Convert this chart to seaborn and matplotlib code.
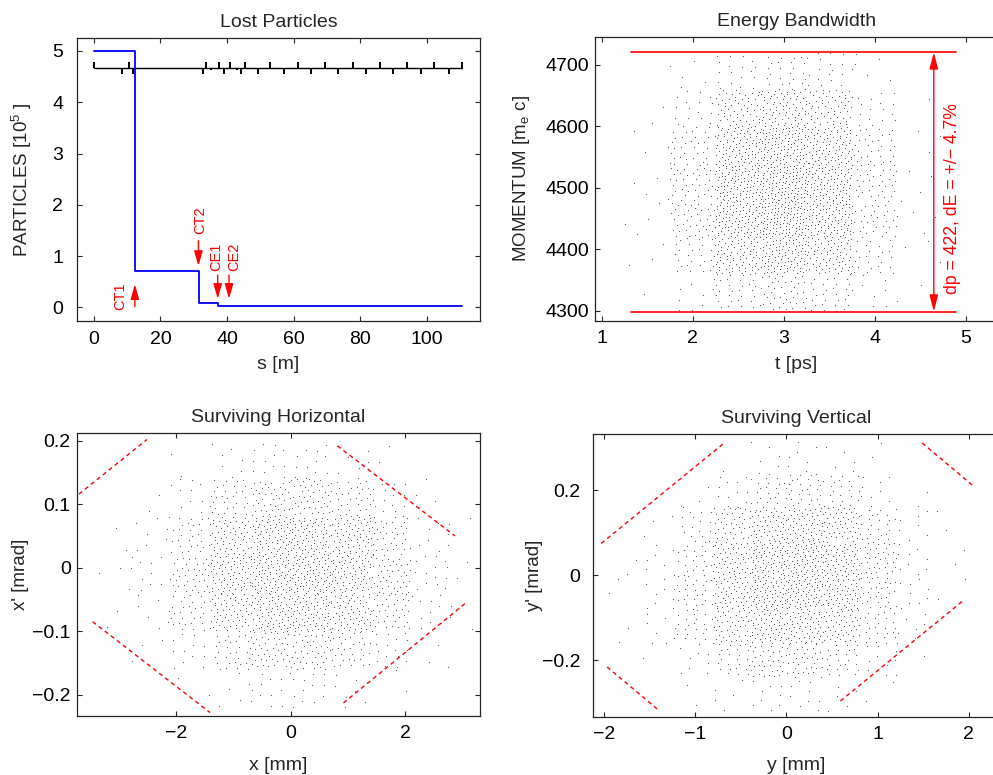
import numpy as np
import pandas as pd
import matplotlib
matplotlib.use("Agg")
import matplotlib.pyplot as plt
import seaborn as sns

# ---------------- data ----------------
# Lost particles (step curve, units of 1e5)
loss_s = [0.0, 12.3, 31.6, 37.2, 110.6]
loss_n = [5.0, 0.72, 0.08, 0.02, 0.02]
beam_s = [0.0, 110.6]
beam_level = 4.67
magnet_s = [0.0, 8.3, 10.6, 11.8, 32.9, 33.7, 35.1, 37.6, 39.1, 40.9, 43.1, 44.1,
            45.4, 49.4, 52.9, 57.1, 61.3, 65.3, 69.5, 73.5, 77.8, 81.8, 86.0, 90.0,
            94.0, 98.3, 102.3, 106.6, 110.6]
magnet_h = [0.12, -0.12, 0.12, -0.12, -0.12, 0.12, -0.04, 0.12, -0.12, 0.12, -0.04, -0.12,
            0.12, -0.12, 0.12, -0.12, 0.12, -0.12, 0.12, -0.12, 0.12, -0.12, 0.12, -0.12,
            0.12, -0.12, 0.12, -0.12, 0.12]
coll_names = ["CT1", "CT2", "CE1", "CE2"]
coll_s = [12.3, 31.4, 37.2, 40.6]
coll_tail = [0.02, 1.30, 0.63, 0.63]
coll_head = [0.45, 0.81, 0.17, 0.17]
coll_text_s = [8.0, 31.9, 36.9, 42.1]
coll_text_y = [0.21, 1.71, 0.99, 0.99]

# Energy bandwidth: dot counts per cell (rows: high momentum -> low)
eb_t_edges = [1.25, 1.75, 2.25, 2.75, 3.25, 3.75, 4.25, 4.75]
eb_p_edges = [4300, 4360, 4420, 4480, 4540, 4600, 4660, 4720]
eb_counts = [
    [0, 5, 18, 25, 18, 5, 0],
    [2, 16, 58, 75, 58, 16, 1],
    [3, 32, 92, 110, 90, 30, 3],
    [4, 40, 108, 125, 104, 36, 4],
    [4, 40, 108, 132, 104, 36, 4],
    [3, 28, 82, 104, 80, 25, 3],
    [1, 9, 30, 40, 29, 9, 1],
]
band_p = [4298.5, 4720.5]
band_t = [1.32, 4.89]
band_arrow_t = 4.65
band_text = "dp = 422, dE = +/\u2212 4.7%"

# Surviving horizontal: dot counts per cell (rows: high x' -> low)
h_x_edges = [-3.5, -2.8, -2.1, -1.4, -0.7, 0.0, 0.7, 1.4, 2.1, 2.8, 3.5]
h_xp_edges = [-0.22, -0.16, -0.10, -0.04, 0.02, 0.08, 0.14, 0.20]
h_counts = [
    [0, 0, 2, 7, 12, 12, 7, 2, 0, 0],
    [0, 3, 12, 30, 45, 45, 34, 16, 3, 0],
    [2, 7, 30, 62, 80, 80, 68, 38, 9, 2],
    [3, 11, 38, 75, 92, 92, 78, 45, 14, 3],
    [2, 7, 30, 62, 80, 80, 68, 38, 12, 2],
    [0, 3, 12, 30, 45, 45, 34, 16, 3, 0],
    [0, 0, 2, 5, 12, 12, 7, 2, 0, 0],
]
h_acc_x = [[-3.70, -2.51], [0.815, 2.87], [-3.46, -1.41], [0.92, 3.05]]
h_acc_xp = [[0.116, 0.202], [0.192, 0.050], [-0.085, -0.228], [-0.213, -0.056]]

# Surviving vertical: dot counts per cell (rows: high y' -> low)
v_y_edges = [-2.0, -1.6, -1.2, -0.8, -0.4, 0.0, 0.4, 0.8, 1.2, 1.6, 2.0]
v_yp_edges = [-0.32, -0.24, -0.16, -0.08, 0.0, 0.08, 0.16, 0.24, 0.32]
v_counts = [
    [0, 0, 0, 2, 5, 7, 5, 2, 0, 0],
    [0, 0, 3, 12, 25, 28, 22, 9, 2, 0],
    [0, 3, 16, 40, 58, 62, 50, 25, 7, 2],
    [2, 7, 25, 54, 76, 80, 64, 38, 9, 2],
    [2, 9, 28, 58, 80, 80, 64, 34, 9, 2],
    [2, 7, 22, 46, 64, 64, 50, 25, 7, 0],
    [0, 2, 9, 25, 37, 37, 25, 9, 2, 0],
    [0, 0, 2, 5, 9, 9, 5, 2, 0, 0],
]
v_acc_y = [[-2.03, -0.687], [1.488, 2.047], [-1.966, -1.41], [0.592, 1.937]]
v_acc_yp = [[0.0746, 0.31], [0.311, 0.210], [-0.216, -0.316], [-0.296, -0.060]]


# --------------- helpers ---------------
def cell_cloud(xedges, yedges, counts):
    """Spread each cell's dot count evenly inside the cell (R2 low-discrepancy layout)."""
    g = 1.32471795724474602596
    a1, a2 = 1.0 / g, 1.0 / g ** 2
    ny = len(yedges) - 1
    xs, ys = [], []
    k = 0
    for i, row in enumerate(counts):
        y0, y1 = yedges[ny - 1 - i], yedges[ny - i]
        for j, n in enumerate(row):
            x0, x1 = xedges[j], xedges[j + 1]
            for _ in range(n):
                k += 1
                u = (0.5 + k * a1) % 1.0
                v = (0.5 + k * a2) % 1.0
                xs.append(x0 + u * (x1 - x0))
                ys.append(y0 + v * (y1 - y0))
    return pd.DataFrame({"x": xs, "y": ys})


sns.set_style("ticks")
plt.rcParams["font.family"] = ["Liberation Sans", "DejaVu Sans"]
plt.rcParams.update({
    "mathtext.fontset": "custom",
    "mathtext.rm": "Liberation Sans",
    "mathtext.it": "Liberation Sans:italic",
    "mathtext.default": "regular",
    "font.size": 14,
    "axes.linewidth": 0.9,
    "axes.edgecolor": "#262626",
})

TICK_FS = 14
LAB_FS = 13.5

fig = plt.figure(figsize=(9.93, 7.75), dpi=100)
ax_tl = fig.add_axes([0.0775, 0.5854, 0.4058, 0.3655])
ax_tr = fig.add_axes([0.5992, 0.5862, 0.4058, 0.3657])
ax_bl = fig.add_axes([0.0772, 0.0765, 0.4064, 0.3644])
ax_br = fig.add_axes([0.5975, 0.0752, 0.4076, 0.3648])


def style(ax, ypad, xlab, ylab, title, xlab_y, ylab_x):
    ax.tick_params(direction="in", length=3.5, width=0.8, top=True, right=True,
                   labelsize=TICK_FS, colors="#262626", labelcolor="black")
    ax.tick_params(axis="y", pad=ypad)
    ax.tick_params(axis="x", pad=7)
    for sp in ax.spines.values():
        sp.set_visible(True)
    ax.set_xlabel(xlab, fontsize=TICK_FS)
    ax.set_ylabel(ylab, fontsize=LAB_FS)
    ax.xaxis.label.set_va("center")
    ax.yaxis.label.set_va("center")
    ax.xaxis.set_label_coords(0.5, xlab_y)
    ax.yaxis.set_label_coords(ylab_x, 0.5)
    ax.set_title(title, fontsize=TICK_FS, pad=8)


RED = "#ff0000"
DOT_KW = dict(s=0.7, color="#1a1a1a", linewidth=0, alpha=0.75)

# ---------------- Lost Particles ----------------
ax = ax_tl
ax.plot(beam_s, [beam_level, beam_level], color="black", lw=1.0, zorder=2)
ax.vlines(magnet_s, beam_level, [beam_level + h for h in magnet_h], color="black", lw=1.4, zorder=2)
loss_df = pd.DataFrame({"s": loss_s, "n": loss_n})
sns.lineplot(data=loss_df, x="s", y="n", ax=ax, color="#0000ff", lw=1.3,
             drawstyle="steps-post", sort=False, estimator=None, zorder=3)
for name, s, t0, t1, ts, ty in zip(coll_names, coll_s, coll_tail, coll_head, coll_text_s, coll_text_y):
    ax.annotate("", xy=(s, t1), xytext=(s, t0),
                arrowprops=dict(arrowstyle="-|>,head_length=0.45,head_width=0.13",
                                mutation_scale=20, color=RED, lw=1.0, shrinkA=0, shrinkB=0))
    ax.text(ts, ty, name, rotation=90, ha="center", va="center", color=RED, fontsize=10.5)
ax.set_xlim(-5.1, 116)
ax.set_ylim(-0.27, 5.25)
ax.set_xticks([0, 20, 40, 60, 80, 100])
ax.set_yticks([0, 1, 2, 3, 4, 5])
style(ax, 10, "s [m]", "PARTICLES [10$^5$ ]", "Lost Particles", -0.154, -0.136)

# ---------------- Energy Bandwidth ----------------
ax = ax_tr
eb = cell_cloud(eb_t_edges, eb_p_edges, eb_counts)
sns.scatterplot(data=eb, x="x", y="y", ax=ax, **DOT_KW)
for p in band_p:
    ax.plot(band_t, [p, p], color=RED, lw=1.2)
ax.annotate("", xy=(band_arrow_t, band_p[1]), xytext=(band_arrow_t, band_p[0]),
            arrowprops=dict(arrowstyle="<|-|>,head_length=0.5,head_width=0.13",
                            mutation_scale=20, color=RED, lw=1.0, shrinkA=0, shrinkB=0))
ax.text(4.85, 4483, band_text, rotation=90, ha="center", va="center", color=RED, fontsize=12.7)
ax.set_xlim(0.927, 5.355)
ax.set_ylim(4283.7, 4745)
ax.set_xticks([1, 2, 3, 4, 5])
ax.set_yticks([4300, 4400, 4500, 4600, 4700])
style(ax, 4.3, "t [ps]", "MOMENTUM [m$_e$ c]", "Energy Bandwidth", -0.153, -0.182)

# ---------------- Surviving Horizontal ----------------
ax = ax_bl
hc = cell_cloud(h_x_edges, h_xp_edges, h_counts)
sns.scatterplot(data=hc, x="x", y="y", ax=ax, **DOT_KW)
for xs, ys in zip(h_acc_x, h_acc_xp):
    ax.plot(xs, ys, color=RED, lw=1.0, ls=(0, (3, 2.5)))
ax.set_xlim(-3.74, 3.31)
ax.set_ylim(-0.233, 0.2117)
ax.set_xticks([-2, 0, 2])
ax.set_xticklabels(["\u22122", "0", "2"])
ax.set_yticks([-0.2, -0.1, 0, 0.1, 0.2])
ax.set_yticklabels(["\u22120.2", "\u22120.1", "0", "0.1", "0.2"])
style(ax, 4.3, "x [mm]", "x' [mrad]", "Surviving Horizontal", -0.175, -0.139)

# ---------------- Surviving Vertical ----------------
ax = ax_br
vc = cell_cloud(v_y_edges, v_yp_edges, v_counts)
sns.scatterplot(data=vc, x="x", y="y", ax=ax, **DOT_KW)
for xs, ys in zip(v_acc_y, v_acc_yp):
    ax.plot(xs, ys, color=RED, lw=1.0, ls=(0, (3, 2.5)))
ax.set_xlim(-2.117, 2.32)
ax.set_ylim(-0.333, 0.332)
ax.set_xticks([-2, -1, 0, 1, 2])
ax.set_xticklabels(["\u22122", "\u22121", "0", "1", "2"])
ax.set_yticks([-0.2, 0, 0.2])
ax.set_yticklabels(["\u22120.2", "0", "0.2"])
style(ax, 9.4, "y [mm]", "y' [mrad]", "Surviving Vertical", -0.174, -0.146)

fig.savefig("out.png", dpi=100, facecolor="white")
